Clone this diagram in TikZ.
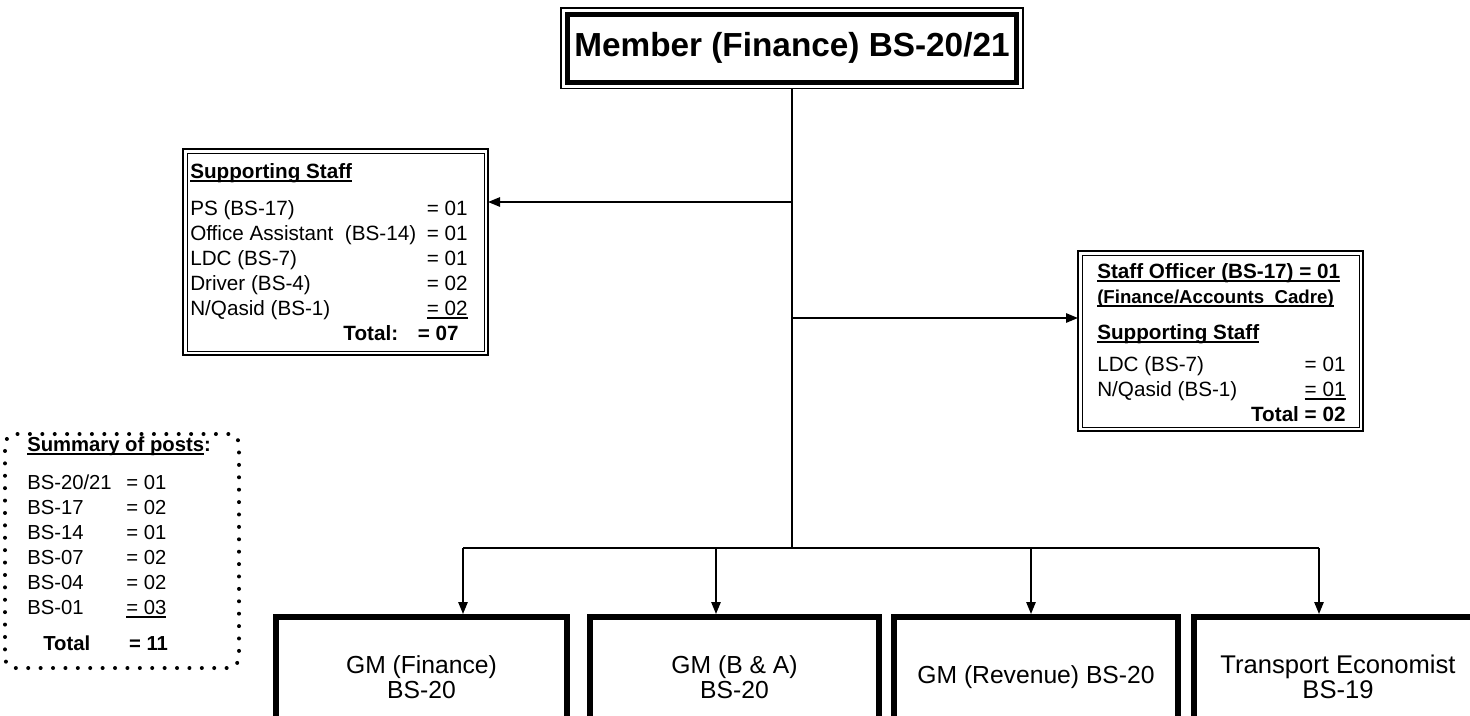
\documentclass[tikz,border=0pt]{standalone}
\usepackage{fontspec}
\setmainfont{Liberation Sans}
\usetikzlibrary{arrows.meta}
\newcommand\ulin[1]{\setbox0\hbox{#1}\rlap{\rule[-2.6pt]{\wd0}{1.1pt}}\box0}
\newcommand\sidefont{\fontsize{15.5}{18.75}\selectfont}

\begin{document}
\begin{tikzpicture}[x=0.75pt,y=-0.75pt,
    headbox/.style={draw,line width=0.9pt,outer sep=0pt,inner sep=0pt,minimum width=462*0.75pt,minimum height=80.5*0.75pt,font=\fontsize{25}{30}\selectfont\bfseries},
    staffbox/.style={draw,line width=1.6pt,outer sep=0pt,inner sep=0pt},
    textblock/.style={anchor=north west,inner sep=0pt,font=\sidefont},
    sumframe/.style={draw,line width=3pt,dash pattern=on 0pt off 9.3pt,line cap=round,rounded corners=8pt,minimum width=234*0.75pt,minimum height=234*0.75pt},
    postbox/.style={draw,line width=4.5pt,minimum height=120*0.75pt,align=center,inner sep=0pt,font=\fontsize{18.5}{18.75}\selectfont},
    conn/.style={line width=1.3pt},
    arr/.style={conn,-{Triangle[length=9pt,width=7pt]}}]
    \useasboundingbox (0,0) rectangle (1470,715);

    \node[headbox] (member) at (792,48.25) {Member (Finance) BS-20/21};
    \draw[line width=3.75pt] ([shift={(6.5,6.5)}]member.north west) rectangle ([shift={(-6.5,-6.5)}]member.south east);

    \node[staffbox,minimum width=305*0.75pt,minimum height=206*0.75pt] (supstaff) at (335.5,252) {};
    \draw[line width=0.75pt] ([shift={(4,4)}]supstaff.north west) rectangle ([shift={(-4,-4)}]supstaff.south east);
    \node[textblock] (suptext) at ([shift={(7,11.5)}]supstaff.north west) {%
        \begin{tabular}{@{}l@{\hspace{8pt}}r@{}}
        \multicolumn{2}{@{}l@{}}{\bfseries\ulin{Supporting Staff}}\\[9pt]
        PS (BS-17) & = 01\\
        Office Assistant~~(BS-14) & = 01\\
        LDC (BS-7) & = 01\\
        Driver (BS-4) & = 02\\
        N/Qasid (BS-1) & \ulin{= 02}\\
        \multicolumn{1}{@{}r@{\hspace{8pt}}}{\bfseries Total:\kern13.5pt} & \llap{\bfseries = 07\kern6.75pt}
        \end{tabular}};

    \node[staffbox,minimum width=285*0.75pt,minimum height=180*0.75pt] (staffoff) at (1220.5,341) {};
    \draw[line width=0.75pt] ([shift={(4,4)}]staffoff.north west) rectangle ([shift={(-4,-4)}]staffoff.south east);
    \node[textblock] (offtext) at ([shift={(19,9.5)}]staffoff.north west) {%
        \begin{tabular}{@{}lr@{}}
        \multicolumn{2}{@{}l@{}}{\bfseries\ulin{Staff Officer (BS-17) = 01}\kern4pt}\\
        \multicolumn{2}{@{}l@{}}{\fontsize{14}{18.75}\selectfont\bfseries\ulin{(Finance/Accounts~~Cadre)}}\\[8.25pt]
        \multicolumn{2}{@{}l@{}}{\bfseries\ulin{Supporting Staff}}\\[5.25pt]
        LDC (BS-7) & = 01\\
        N/Qasid (BS-1) & \ulin{= 01}\\
        \multicolumn{2}{@{}r@{}}{\bfseries Total = 02}
        \end{tabular}};

    \node[sumframe] (summary) at (122,551) {};
    \node[textblock,font=\fontsize{15.2}{18.75}\selectfont] (sumtext) at (27,433.5) {%
        \begin{tabular}{@{}l@{\hspace{11pt}}l@{}}
        \multicolumn{2}{@{}l@{}}{\bfseries\ulin{Summary of posts}:}\\[9.75pt]
        BS-20/21 & = 01\\
        BS-17 & = 02\\
        BS-14 & = 01\\
        BS-07 & = 02\\
        BS-04 & = 02\\
        BS-01 & \ulin{= 03}\\[8.25pt]
        \kern12pt\bfseries Total & \kern2pt\bfseries = 11
        \end{tabular}};

    \node[postbox,minimum width=291*0.75pt] (gmfin) at (421.5,677) {GM (Finance)\\BS-20};
    \node[postbox,minimum width=289*0.75pt] (gmba) at (734.5,677) {GM (B \& A)\\BS-20};
    \node[postbox,minimum width=284*0.75pt] (gmrev) at (1036,677) {GM (Revenue) BS-20};
    \node[postbox,minimum width=288*0.75pt,font=\fontsize{19.2}{18.75}\selectfont] (transec) at (1338,677) {Transport Economist\\BS-19};

    \coordinate (tapL) at (792,202);
    \coordinate (tapR) at (792,318);
    \coordinate (busL) at (463,548);
    \coordinate (busR) at (1319,548);
    \draw[conn,line width=1.6pt] (member.south) -- (member.south |- busL);
    \draw[conn] (busL) -- (busR);
    \draw[arr] (tapL) -- (tapL -| supstaff.east);
    \draw[arr] (tapR) -- (tapR -| staffoff.west);
    \foreach \x/\b in {463/gmfin,716/gmba,1031/gmrev,1319/transec}
        \draw[arr] (\x,548) -- (\x,548 |- \b.north);
\end{tikzpicture}
\end{document}
